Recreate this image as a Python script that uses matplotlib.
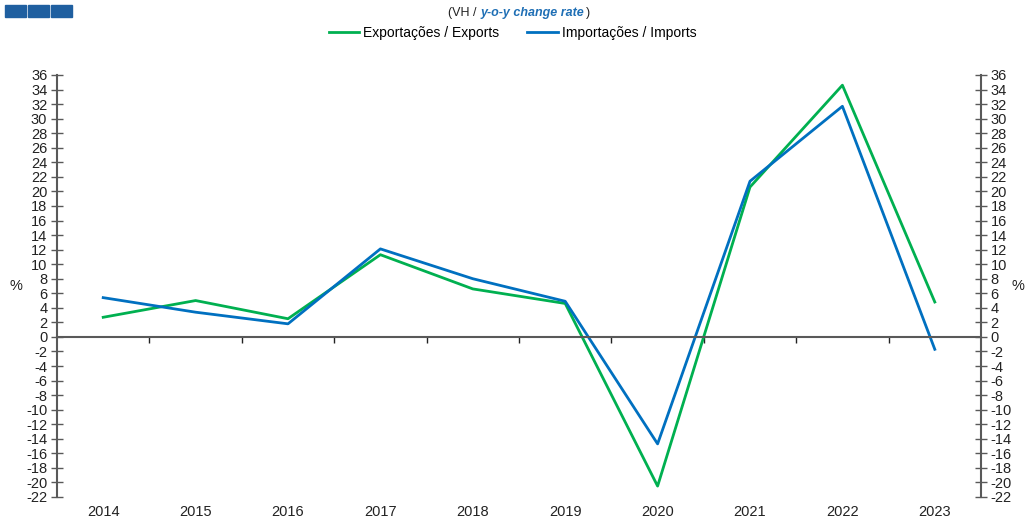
import matplotlib.pyplot as plt
from matplotlib.patches import Rectangle
import numpy as np

plt.rcParams['font.family'] = ['Liberation Sans', 'DejaVu Sans']
plt.rcParams['axes.unicode_minus'] = False

years = ['2014', '2015', '2016', '2017', '2018', '2019', '2020', '2021', '2022', '2023']
exports = [2.7, 5.0, 2.5, 11.3, 6.6, 4.6, -20.5, 20.6, 34.6, 4.8]
imports = [5.4, 3.4, 1.8, 12.1, 8.0, 4.9, -14.7, 21.4, 31.7, -1.7]

green = '#00B050'
blue = '#0070C0'
grey = '#595959'

fig = plt.figure(figsize=(10.25, 5.19), dpi=100)
W, H = 1025, 519
ax = fig.add_axes([57 / W, 1 - 497 / H, (981 - 57) / W, (497 - 75) / H])

x = np.arange(len(years))
ax.plot(x, exports, color=green, lw=2.0, label='Exportações / Exports')
ax.plot(x, imports, color=blue, lw=2.0, label='Importações / Imports')

ax.set_xlim(-0.5, len(years) - 0.5)
ax.set_ylim(-22, 36)
ax.set_yticks(np.arange(-22, 37, 2))

ax.spines['top'].set_visible(False)
ax.spines['bottom'].set_position(('data', 0))
for s in ['left', 'right', 'bottom']:
    ax.spines[s].set_color(grey)
    ax.spines[s].set_linewidth(1.5)

ax.tick_params(axis='y', which='both', direction='inout', length=8, width=1,
               color=grey, labelsize=10.5, labelcolor='#222222',
               left=True, right=True, labelleft=True, labelright=True, pad=3)

# category boundaries on the zero line, labels at the bottom
ax.set_xticks(np.arange(0.5, len(years) - 0.5, 1))
ax.set_xticklabels([])
ax.tick_params(axis='x', which='major', direction='out', length=4, width=1, color='#222222')
ax.set_xticks(x, minor=True)
ax.set_xticklabels(years, minor=True)
ax.tick_params(axis='x', which='minor', length=0, labelsize=10.5, labelcolor='#222222', pad=121)

fig.text(16 / W, 1 - 286 / H, '%', fontsize=10.5, ha='center', va='center', color='#222222')
fig.text(1018 / W, 1 - 286 / H, '%', fontsize=10.5, ha='center', va='center', color='#222222')

# subtitle, built piece by piece
t1 = fig.text(448 / W, 1 - 13 / H, '(VH / ', fontsize=9, ha='left', va='center', color='#222222')
t2 = fig.text(0, 0, 'y-o-y change rate', fontsize=9, ha='left', va='center',
              color='#1F6FB5', fontweight='bold', fontstyle='italic')
fig.canvas.draw()
r = fig.canvas.get_renderer()
b1 = t1.get_window_extent(r)
t2.set_position((b1.x1 / W + 1 / W, 1 - 13 / H))
fig.canvas.draw()
b2 = t2.get_window_extent(r)
fig.text(b2.x1 / W + 1 / W, 1 - 13 / H, ')', fontsize=9, ha='left', va='center', color='#222222')

fig.legend(loc='center', bbox_to_anchor=(0.5, 1 - 33 / H), ncol=2, frameon=False,
           fontsize=10, handlelength=2.2, columnspacing=2.0, handletextpad=0.3)

for i in range(3):
    fig.patches.append(Rectangle(((5 + 23 * i) / W, 1 - 17 / H), 21 / W, 12 / H,
                                 transform=fig.transFigure, color='#1F5FA0'))

fig.savefig('out.png', dpi=100)
